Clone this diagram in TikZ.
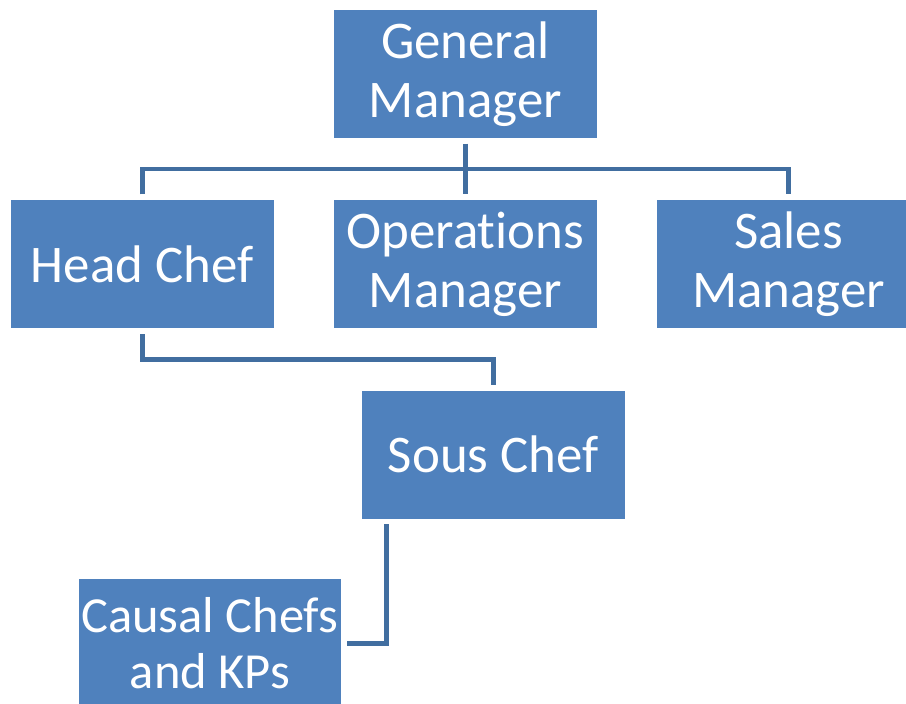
\documentclass[tikz,border=0pt]{standalone}
\usepackage{fontspec}
\setmainfont[Ligatures=NoCommon]{Carlito}
\usetikzlibrary{
  positioning,  % Function "of" (e.g. [below=of x])
  calc,         % Calculations $...$
}
\definecolor{boxfill}{RGB}{79,129,189}
\definecolor{linkblue}{RGB}{65,110,160}
\def\myvdist{31.5pt}
\def\myhdist{30.5pt}
\def\mygap{3pt}
\tikzset{
  font=\fontsize{26.5}{29.5}\selectfont,
  org box/.style={
    draw=boxfill,
    fill=boxfill,
    text=white,
    minimum width=131pt,
    minimum height=63.5pt,
    inner sep=0mm,
    align=center,
    rectangle
  },
  link/.style={
    draw=linkblue,
    line width=2.5pt,
    shorten >=\mygap,
    shorten <=\mygap
  }
}

\begin{document}
\begin{tikzpicture}[node distance=\myvdist]
\node[org box] (gm)                              {General\\Manager};
\node[org box] (ops)    [below=of gm]            {Operations\\Manager};
\node[org box] (head)   [left=\myhdist of ops]   {Head Chef};
\node[org box] (sales)  [right=\myhdist of ops]  {Sales\\Manager};
\node[org box] (sous)   [below=of ops,xshift=14pt]    {Sous Chef};
\node[org box,font=\fontsize{25.3}{28.5}\selectfont]
               (causal) [below=30.5pt of sous,xshift=-142pt] {Causal Chefs\\and KPs};
\coordinate (top bus) at ($(gm.south)!0.5!(ops.north)$);
\coordinate (mid bus) at ($(head.south)!0.5!(sous.north)$);
\coordinate (sous out) at ($(sous.south west)+(12pt,0)$);
\draw[link] (gm.south) -- (ops.north);
\draw[link] (head.north) |- (top bus) -| (sales.north);
\draw[link] (head.south) |- (mid bus) -| (sous.north);
\draw[link] (sous out) |- (causal.east);
% page cut as in the original
\pgfresetboundingbox
\useasboundingbox ($(head.west |- gm.north)+(-5.5pt,5pt)$)
  rectangle ($(sales.west |- causal.north)+(124.5pt,-62pt)$);
\end{tikzpicture}
\end{document}
